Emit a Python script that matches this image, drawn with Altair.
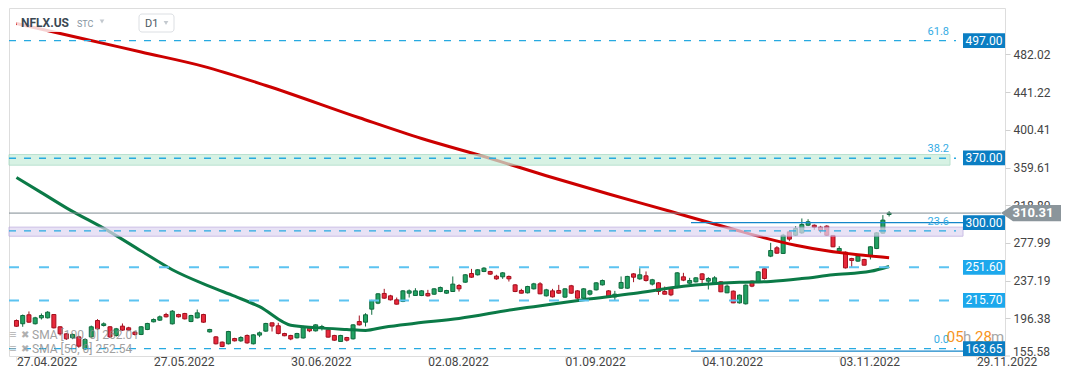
import altair as alt
import pandas as pd

# ---------------- data ----------------
opens = [194.0, 190.5, 200.2, 190.5, 196.9, 196.9, 200.5, 187.2, 179.6, 175.3,
         176.3, 163.3, 176.3, 194.0, 188.6, 187.2, 177.8, 187.9, 186.1, 181.4,
         178.9, 184.3, 192.6, 194.4, 200.5, 190.4, 200.5, 201.6, 192.9, 196.9,
         200.5, 181.7, 176.3, 170.6, 168.8, 174.5, 172.0, 177.8, 168.8, 178.2,
         182.5, 191.5, 188.3, 179.9, 177.8, 175.3, 175.1, 185.7, 182.8, 186.4,
         183.9, 177.8, 171.3, 175.6, 174.2, 192.9, 192.2, 206.3, 212.8, 223.3,
         220.7, 216.4, 214.6, 223.6, 221.1, 221.1, 223.3, 222.5, 225.4, 223.6,
         225.4, 231.9, 235.5, 244.9, 243.5, 247.1, 247.1, 242.0, 241.3, 241.7,
         232.6, 226.5, 224.0, 228.3, 233.7, 220.7, 226.1, 226.5, 219.3, 231.6,
         226.1, 218.2, 222.5, 227.2, 232.6, 226.1, 219.6, 229.0, 229.0, 244.5,
         239.1, 242.4, 233.4, 234.8, 225.4, 228.3, 229.7, 241.3, 234.4, 235.9,
         244.5, 236.6, 234.4, 235.9, 224.0, 225.8, 213.1, 212.1, 236.6, 235.9,
         250.0, 263.7, 272.7, 266.6, 290.0, 286.4, 288.9, 297.2, 297.2, 295.1,
         296.2, 286.1, 269.1, 268.0, 261.1, 258.3, 260.1, 263.7, 272.0, 288.6,
         308.8]
closes = [187.8, 199.4, 192.2, 196.9, 199.4, 203.0, 186.1, 179.6, 174.2, 178.9,
          166.2, 173.4, 187.2, 185.0, 190.4, 176.3, 185.0, 183.6, 183.6, 178.9,
          187.2, 190.8, 195.1, 198.0, 198.0, 204.1, 198.0, 195.8, 199.4, 202.3,
          192.2, 184.3, 168.8, 165.9, 182.1, 172.0, 175.6, 169.8, 178.5, 180.7,
          190.8, 188.0, 180.0, 177.5, 174.0, 179.9, 187.5, 182.8, 189.3, 187.5,
          176.0, 172.7, 177.8, 172.7, 189.3, 189.3, 200.2, 215.3, 222.9, 218.2,
          216.4, 211.7, 226.1, 226.1, 226.1, 226.1, 220.7, 228.3, 229.7, 226.5,
          233.4, 228.3, 243.5, 240.9, 248.9, 250.7, 244.2, 239.1, 245.6, 239.1,
          225.4, 223.6, 230.8, 233.7, 222.9, 227.2, 219.6, 223.6, 228.3, 223.6,
          218.2, 228.3, 226.1, 234.8, 237.3, 219.3, 222.5, 235.2, 241.7, 240.9,
          243.5, 237.3, 238.1, 225.4, 222.5, 221.8, 245.6, 237.7, 237.3, 240.2,
          238.4, 239.5, 240.2, 225.1, 231.2, 213.1, 221.5, 232.3, 231.2, 246.7,
          239.5, 269.8, 266.9, 286.4, 282.1, 293.6, 298.0, 300.9, 295.1, 291.5,
          286.4, 273.8, 272.0, 251.0, 259.0, 263.7, 253.9, 273.8, 288.9, 302.7,
          310.31]
highs = [195.1, 200.5, 203.8, 198.0, 201.6, 204.1, 200.8, 187.8, 180.5, 180.0,
         177.5, 174.5, 188.5, 195.5, 192.0, 188.0, 186.0, 190.8, 187.2, 182.5,
         188.0, 191.5, 196.2, 199.4, 202.3, 205.3, 201.3, 202.3, 200.2, 205.9,
         201.3, 185.0, 177.0, 171.3, 182.8, 175.3, 177.0, 178.9, 179.2, 182.1,
         191.5, 191.8, 191.5, 180.7, 178.5, 180.7, 188.3, 187.1, 190.0, 189.3,
         184.6, 178.5, 178.5, 176.3, 190.0, 199.4, 201.9, 216.4, 223.6, 228.3,
         221.8, 218.9, 226.9, 227.6, 229.0, 226.9, 227.2, 229.0, 230.8, 227.2,
         241.7, 233.4, 244.2, 249.9, 249.6, 251.8, 247.8, 243.5, 246.4, 242.7,
         233.4, 228.3, 231.6, 234.8, 235.5, 228.3, 228.3, 232.6, 229.0, 232.6,
         226.9, 229.0, 227.2, 235.5, 238.4, 226.9, 226.1, 241.7, 242.4, 245.3,
         250.7, 247.1, 239.1, 235.5, 230.8, 229.0, 246.4, 245.6, 240.2, 240.9,
         245.3, 240.9, 242.0, 236.6, 233.0, 226.5, 222.2, 233.0, 237.3, 247.4,
         250.3, 278.1, 274.5, 287.9, 290.7, 296.2, 304.5, 303.7, 298.0, 296.5,
         297.2, 286.4, 274.5, 268.7, 261.9, 265.5, 260.8, 274.5, 289.7, 308.1,
         312.4]
lows = [187.2, 187.2, 191.5, 189.7, 195.1, 196.2, 185.4, 177.8, 173.0, 173.8,
        164.5, 162.0, 175.5, 184.0, 187.5, 175.0, 176.5, 182.8, 182.5, 177.8,
        178.2, 183.6, 192.0, 193.5, 197.3, 189.7, 197.3, 195.1, 192.2, 196.2,
        191.5, 181.0, 168.1, 165.2, 168.1, 171.3, 170.9, 168.8, 168.1, 176.0,
        181.8, 182.1, 179.0, 177.0, 172.7, 174.5, 174.5, 181.4, 182.1, 183.2,
        175.6, 172.0, 170.9, 171.3, 173.4, 188.6, 187.5, 200.2, 211.7, 217.5,
        215.7, 211.3, 213.9, 218.9, 220.7, 220.4, 220.0, 221.8, 224.7, 222.9,
        225.1, 225.4, 234.8, 240.2, 242.7, 246.4, 243.5, 238.1, 239.1, 236.2,
        224.7, 223.3, 223.3, 227.6, 222.5, 220.0, 218.9, 222.9, 218.6, 222.9,
        217.5, 217.5, 221.1, 226.5, 231.9, 218.6, 215.3, 228.3, 228.3, 235.5,
        238.1, 236.2, 231.9, 221.8, 222.2, 220.4, 229.0, 236.6, 233.7, 235.2,
        233.0, 227.6, 233.0, 224.7, 223.6, 212.8, 212.4, 211.3, 230.1, 235.2,
        238.4, 262.6, 266.2, 266.2, 279.9, 285.7, 287.9, 296.2, 292.2, 288.6,
        285.7, 273.4, 268.4, 250.3, 251.8, 257.5, 253.6, 260.1, 271.3, 287.9,
        306.6]

# moving averages, read at sample bar positions
sma100_idx = [0, 10, 20, 30, 40, 55, 65, 75, 85, 95, 105, 110, 115, 120, 125, 130, 135, 140]
sma100_val = [515.6, 500.2, 484.7, 469.2, 448.5, 413.5, 391.1, 371.6, 350.8, 331.0,
              312.0, 302.3, 292.8, 283.5, 275.5, 269.5, 265.2, 262.01]
sma50_idx = [0, 4, 8, 15, 20, 25, 31, 35, 39, 44, 48, 53, 56, 59, 64, 71, 80, 83,
             91, 99, 107, 116, 121, 126, 131, 137, 140]
sma50_val = [348.9, 332.5, 316.0, 290.0, 269.3, 249.0, 231.0, 220.3, 209.0, 188.9,
             186.3, 184.3, 183.3, 186.8, 191.0, 196.2, 206.2, 209.0, 216.6, 223.2,
             231.0, 235.3, 236.3, 239.4, 243.5, 247.3, 252.54]

# x axis ticks (bar index) and their labels
tick_idx = [0, 22, 44, 66, 88, 110, 132, 154]
tick_labels = ['27.04.2022', '27.05.2022', '30.06.2022', '02.08.2022',
               '01.09.2022', '04.10.2022', '03.11.2022', '29.11.2022']
# y axis labels (the lowest one sits clamped above the bottom edge)
y_ticks = [196.38, 237.19, 277.99, 318.80, 359.61, 400.41, 441.22, 482.02]
y_bottom_label = 155.58

# fibonacci levels
fib_levels = [497.00, 369.7, 291.0, 163.65]
fib_names = ['61.8', '38.2', '23.6', '0.0']
# support / resistance dashed levels
sr_levels = [251.60, 215.70]
# zones
zone_green = [362.2, 373.7]
zone_purple = [285.3, 295.1]
# price tags
tag_values = [497.00, 370.00, 300.00, 251.60, 215.70, 163.65]
tag_kind = ['dark', 'dark', 'dark', 'light', 'light', 'dark']
solid_levels = [300.00, 160.9]
last_price = 310.31

# ---------------- chart ----------------
W, H = 996, 348
xs = alt.Scale(domain=[-0.397, 157.79], nice=False, zero=False)
ys = alt.Scale(domain=[155.58, 532.36], nice=False, zero=False)

GREEN_F, GREEN_S = '#22a263', '#0f6a3d'
RED_F, RED_S = '#e8293c', '#a3111f'
UP = 'datum.c >= datum.o'

x_axis = alt.Axis(values=tick_idx, title=None, grid=False, domain=False,
                  labelExpr=f"{tick_labels}[indexof({tick_idx}, datum.value)]",
                  labelAlign='left', labelFontSize=12, labelColor='#444444',
                  labelFont='Roboto', tickColor='#e6e6e6', tickSize=5,
                  labelPadding=-5, labelOverlap=False)
y_axis = alt.Axis(values=y_ticks, orient='right', title=None, grid=False,
                  domain=False, format='.2f', labelFontSize=12,
                  labelColor='#444444', labelFont='Roboto', tickColor='#d0d0d0',
                  tickSize=5, labelPadding=3, labelOverlap=False)


def X(field):
    return alt.X(field, type='quantitative', scale=xs, axis=x_axis)


def Y(field):
    return alt.Y(field, type='quantitative', scale=ys, axis=y_axis)


df = pd.DataFrame({'i': list(range(len(opens))), 'o': opens, 'h': highs,
                   'l': lows, 'c': closes})
base = alt.Chart(df)
wicks = base.mark_rule(strokeWidth=1).encode(
    x=X('i'), y=Y('l'), y2='h:Q',
    color=alt.condition(UP, alt.value(GREEN_S), alt.value(RED_S)))
bodies = base.mark_bar(size=4, strokeWidth=1).encode(
    x=X('i'), y=Y('o'), y2='c:Q',
    fill=alt.condition(UP, alt.value(GREEN_F), alt.value(RED_F)),
    stroke=alt.condition(UP, alt.value(GREEN_S), alt.value(RED_S)))

sma100 = alt.Chart(pd.DataFrame({'i': sma100_idx, 'v': sma100_val})).mark_line(
    color='#cc0000', strokeWidth=3, interpolate='monotone').encode(x=X('i'), y=Y('v'))
sma50 = alt.Chart(pd.DataFrame({'i': sma50_idx, 'v': sma50_val})).mark_line(
    color='#0b7a47', strokeWidth=3, interpolate='monotone').encode(x=X('i'), y=Y('v'))

band_green = alt.Chart(pd.DataFrame({'lo': [zone_green[0]], 'hi': [zone_green[1]]})).mark_rect(
    opacity=0.72, fill='#c8eedb', stroke='#9fd6bc', strokeWidth=1).encode(
    x=alt.value(0), x2=alt.value(941), y=Y('lo'), y2='hi:Q')
band_purple = alt.Chart(pd.DataFrame({'lo': [zone_purple[0]], 'hi': [zone_purple[1]]})).mark_rect(
    opacity=0.72, fill='#e0d8f2', stroke='#b7a6dd', strokeWidth=1).encode(
    x=alt.value(0), x2=alt.value(954), y=Y('lo'), y2='hi:Q')

fib_df = pd.DataFrame({'v': fib_levels, 'name': fib_names})
fib_lines = alt.Chart(fib_df).mark_rule(color='#27aae1', strokeWidth=1.3,
                                        strokeDash=[7, 8]).encode(
    x=alt.value(0), x2=alt.value(947), y=Y('v'))
fib_text = alt.Chart(fib_df).mark_text(align='right', baseline='middle', dy=-9,
                                       fontSize=11, color='#36ace4',
                                       font='Roboto').encode(
    x=alt.value(940), y=Y('v'), text='name:N')

sr_lines = alt.Chart(pd.DataFrame({'v': sr_levels})).mark_rule(
    color='#5cc3f1', strokeWidth=2, strokeDash=[10, 20]).encode(
    x=alt.value(0), x2=alt.value(947), y=Y('v'))

solid_lines = alt.Chart(pd.DataFrame({'v': solid_levels})).mark_rule(
    color='#1586c9', strokeWidth=1.3).encode(
    x=alt.value(682), x2=alt.value(954), y=Y('v'))
last_line = alt.Chart(pd.DataFrame({'v': [last_price]})).mark_rule(
    color='#7f8b92', strokeWidth=1).encode(
    x=alt.value(0), x2=alt.value(992), y=Y('v'))

# bottom y-axis label, clamped inside the plot like the reference
bottom_df = pd.DataFrame({'v': [y_bottom_label], 'label': [f'{y_bottom_label:.2f}']})
bottom_label = alt.Chart(bottom_df).mark_text(
    align='left', baseline='middle', dy=-4, fontSize=12, color='#444444',
    font='Roboto').encode(x=alt.value(1004), y=Y('v'), text='label:N')
bottom_tick = alt.Chart(bottom_df).mark_rule(color='#d0d0d0').encode(
    x=alt.value(996), x2=alt.value(1001), y=Y('v'))

tag_df = pd.DataFrame({'v': tag_values, 'kind': tag_kind,
                       'label': [f'{t:.2f}' for t in tag_values]})
TAG_SHAPE = 'M-1,-0.35L1,-0.35L1,0.35L-1,0.35Z'
tags = alt.Chart(tag_df).mark_point(shape=TAG_SHAPE, filled=True, size=1764,
                                    opacity=1, strokeWidth=0).encode(
    x=alt.value(975), y=Y('v'),
    color=alt.Color('kind:N', scale=alt.Scale(domain=['dark', 'light'],
                                              range=['#0b7ec3', '#1da8ec']),
                    legend=None))
tag_text = alt.Chart(tag_df).mark_text(color='white', fontSize=12, font='Roboto',
                                       baseline='middle', align='center').encode(
    x=alt.value(975), y=Y('v'), text='label:N')

ARROW = 'M-1,0L-0.6,-0.27L1,-0.27L1,0.27L-0.6,0.27Z'
last_df = pd.DataFrame({'v': [last_price], 'label': [f'{last_price:.2f}']})
last_tag = alt.Chart(last_df).mark_point(shape=ARROW, filled=True, size=3600,
                                         opacity=1, strokeWidth=0,
                                         color='#8b959b').encode(
    x=alt.value(1022), y=Y('v'))
last_text = alt.Chart(last_df).mark_text(color='white', fontSize=13,
                                         fontWeight='bold', font='Roboto',
                                         baseline='middle', align='center').encode(
    x=alt.value(1024), y=Y('v'), text='label:N')

one = pd.DataFrame({'a': [0]})
hdr_box = alt.Chart(one).mark_rect(fill='white', opacity=0.82).encode(
    x=alt.value(8), x2=alt.value(104), y=alt.value(3), y2=alt.value(24))
hdr_name = alt.Chart(one).mark_text(text='NFLX.US', fontSize=12, fontWeight='bold',
                                    color='#3b4853', align='left', baseline='middle',
                                    font='Roboto').encode(x=alt.value(12), y=alt.value(15))
hdr_stc = alt.Chart(one).mark_text(text='STC', fontSize=9, color='#8795a1',
                                   align='left', baseline='middle',
                                   font='Roboto').encode(x=alt.value(68), y=alt.value(16))
d1_box = alt.Chart(one).mark_rect(fill='white', stroke='#dcdfe3', strokeWidth=1,
                                  cornerRadius=3).encode(
    x=alt.value(130), x2=alt.value(165), y=alt.value(6), y2=alt.value(24))
d1_text = alt.Chart(one).mark_text(text='D1', fontSize=11, color='#4d5862',
                                   align='left', baseline='middle',
                                   font='Roboto').encode(x=alt.value(136), y=alt.value(15.5))
tri1 = alt.Chart(one).mark_point(shape='triangle-down', filled=True, size=22,
                                 opacity=1, color='#c3c9cf').encode(
    x=alt.value(93), y=alt.value(13.5))
tri2 = alt.Chart(one).mark_point(shape='triangle-down', filled=True, size=22,
                                 opacity=1, color='#c3c9cf').encode(
    x=alt.value(157), y=alt.value(15))

leg_icon1 = alt.Chart(one).mark_text(text='≡', fontSize=13, color='#a3a3a3',
                                     align='left', baseline='middle',
                                     opacity=0.85).encode(x=alt.value(0), y=alt.value(327))
leg_icon2 = alt.Chart(one).mark_text(text='≡', fontSize=13, color='#a3a3a3',
                                     align='left', baseline='middle',
                                     opacity=0.85).encode(x=alt.value(0), y=alt.value(341))
leg_x1 = alt.Chart(one).mark_text(text='✖', fontSize=10, color='#a3a3a3',
                                  align='left', baseline='middle',
                                  opacity=0.85).encode(x=alt.value(12), y=alt.value(327))
leg_x2 = alt.Chart(one).mark_text(text='✖', fontSize=10, color='#a3a3a3',
                                  align='left', baseline='middle',
                                  opacity=0.85).encode(x=alt.value(12), y=alt.value(341))
leg_t1 = alt.Chart(one).mark_text(text='SMA [100, 0] 262.01', fontSize=12,
                                  color='#8a8a8a', align='left', baseline='middle',
                                  opacity=0.8, font='Roboto').encode(
    x=alt.value(23), y=alt.value(327))
leg_t2 = alt.Chart(one).mark_text(text='SMA [50, 0] 252.54', fontSize=12,
                                  color='#8a8a8a', align='left', baseline='middle',
                                  opacity=0.8, font='Roboto').encode(
    x=alt.value(23), y=alt.value(341))

cd = []
for t, px, col in [('05', 937.7, '#f7941d'), ('h', 954, '#a6a6a6'),
                   ('28', 966, '#f7941d'), ('m', 982, '#a6a6a6')]:
    cd.append(alt.Chart(one).mark_text(text=t, fontSize=15, align='left',
                                       baseline='middle', color=col,
                                       font='Roboto').encode(
        x=alt.value(px), y=alt.value(328.7)))

chart = alt.layer(
    wicks, bodies, sma100, sma50, band_green, band_purple,
    fib_lines, sr_lines, solid_lines, last_line, fib_text,
    bottom_tick, bottom_label,
    hdr_box, hdr_name, hdr_stc, d1_box, d1_text, tri1, tri2,
    leg_icon1, leg_icon2, leg_x1, leg_x2, leg_t1, leg_t2, *cd,
    tags, tag_text, last_tag, last_text
).properties(width=W, height=H, padding=0).configure_view(
    stroke=None).configure(font='Roboto')

chart.save('out.html', embed_options={'renderer': 'svg', 'actions': False})
